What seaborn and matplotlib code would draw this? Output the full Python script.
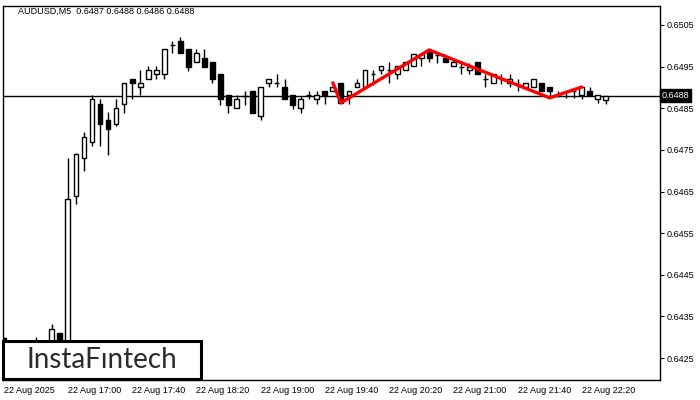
import matplotlib
matplotlib.use("Agg")
import matplotlib.pyplot as plt
import seaborn as sns
import pandas as pd
from matplotlib.patches import Rectangle

# AUDUSD M5 bars, 22 Aug 2025 16:20 .. 22:35
opens = [0.64298, 0.64281, 0.64279, 0.64283, 0.64286, 0.64289, 0.64281, 0.64310, 0.64281, 0.64639,
         0.64731, 0.64769, 0.64860, 0.64822, 0.64812, 0.64860, 0.64920, 0.64901, 0.64920, 0.64932,
         0.64932, 0.65002, 0.65012, 0.64992, 0.64961, 0.64971, 0.64961, 0.64932, 0.64882, 0.64851,
         0.64879, 0.64891, 0.64831, 0.64911, 0.64911, 0.64901, 0.64882, 0.64851, 0.64882, 0.64872,
         0.64891, 0.64891, 0.64911, 0.64882, 0.64901, 0.64901, 0.64932, 0.64942, 0.64942, 0.64932,
         0.64942, 0.64952, 0.64971, 0.64990, 0.64978, 0.64971, 0.64952, 0.64949, 0.64942, 0.64961,
         0.64920, 0.64911, 0.64920, 0.64911, 0.64908, 0.64901, 0.64901, 0.64911, 0.64901, 0.64882,
         0.64889, 0.64891, 0.64882, 0.64891, 0.64872, 0.64870]
highs = [0.64301, 0.64286, 0.64283, 0.64289, 0.64301, 0.64293, 0.64332, 0.64310, 0.64731, 0.64743,
         0.64793, 0.64882, 0.64872, 0.64841, 0.64872, 0.64911, 0.64920, 0.64942, 0.64952, 0.64952,
         0.64992, 0.65012, 0.65021, 0.64992, 0.64992, 0.64992, 0.64961, 0.64932, 0.64882, 0.64882,
         0.64891, 0.64891, 0.64901, 0.64920, 0.64932, 0.64920, 0.64882, 0.64879, 0.64891, 0.64891,
         0.64891, 0.64901, 0.64911, 0.64891, 0.64920, 0.64942, 0.64942, 0.64952, 0.64961, 0.64952,
         0.64961, 0.64980, 0.64980, 0.64990, 0.64980, 0.64980, 0.64966, 0.64959, 0.64959, 0.64961,
         0.64932, 0.64932, 0.64932, 0.64932, 0.64920, 0.64911, 0.64920, 0.64911, 0.64901, 0.64891,
         0.64889, 0.64896, 0.64901, 0.64901, 0.64882, 0.64880]
lows = [0.64274, 0.64269, 0.64269, 0.64274, 0.64276, 0.64274, 0.64274, 0.64269, 0.64269, 0.64620,
        0.64699, 0.64759, 0.64759, 0.64738, 0.64807, 0.64839, 0.64872, 0.64882, 0.64920, 0.64920,
        0.64920, 0.64983, 0.64983, 0.64940, 0.64961, 0.64949, 0.64911, 0.64858, 0.64839, 0.64851,
        0.64858, 0.64839, 0.64822, 0.64901, 0.64901, 0.64872, 0.64848, 0.64839, 0.64872, 0.64860,
        0.64860, 0.64891, 0.64863, 0.64860, 0.64901, 0.64901, 0.64906, 0.64932, 0.64911, 0.64920,
        0.64942, 0.64952, 0.64952, 0.64961, 0.64959, 0.64961, 0.64952, 0.64932, 0.64932, 0.64932,
        0.64901, 0.64911, 0.64908, 0.64901, 0.64891, 0.64901, 0.64901, 0.64891, 0.64875, 0.64877,
        0.64875, 0.64875, 0.64872, 0.64882, 0.64863, 0.64860]
closes = [0.64281, 0.64279, 0.64283, 0.64286, 0.64289, 0.64281, 0.64320, 0.64281, 0.64632, 0.64740,
          0.64781, 0.64872, 0.64812, 0.64800, 0.64851, 0.64911, 0.64911, 0.64911, 0.64942, 0.64942,
          0.64992, 0.65002, 0.64983, 0.64949, 0.64983, 0.64949, 0.64920, 0.64872, 0.64858, 0.64872,
          0.64879, 0.64839, 0.64901, 0.64920, 0.64911, 0.64872, 0.64858, 0.64872, 0.64882, 0.64882,
          0.64882, 0.64901, 0.64863, 0.64891, 0.64911, 0.64942, 0.64932, 0.64952, 0.64942, 0.64952,
          0.64961, 0.64980, 0.64980, 0.64971, 0.64978, 0.64961, 0.64961, 0.64949, 0.64949, 0.64932,
          0.64920, 0.64932, 0.64920, 0.64920, 0.64908, 0.64911, 0.64920, 0.64891, 0.64891, 0.64882,
          0.64889, 0.64891, 0.64901, 0.64882, 0.64882, 0.64880]

# pattern line (bar index, price)
pattern_bars = [41, 42, 53, 68, 72]
pattern_prices = [0.64911, 0.64863, 0.64990, 0.64875, 0.64901]

current_price = 0.6488
y_ticks = [0.6425, 0.6435, 0.6445, 0.6455, 0.6465, 0.6475, 0.6485, 0.6495, 0.6505]
x_tick_bars = [0, 8, 16, 24, 32, 40, 48, 56, 64, 72]
x_tick_labels = ['22 Aug 2025', '22 Aug 17:00', '22 Aug 17:40', '22 Aug 18:20', '22 Aug 19:00',
                 '22 Aug 19:40', '22 Aug 20:20', '22 Aug 21:00', '22 Aug 21:40', '22 Aug 22:20']

df = pd.DataFrame({'open': opens, 'high': highs, 'low': lows, 'close': closes})
df['bar'] = range(len(df))
df['up'] = df['close'] >= df['open']

sns.set_style('white')
plt.rcParams['font.family'] = ['Liberation Sans', 'DejaVu Sans']

fig = plt.figure(figsize=(7, 4), dpi=100)
# axes frame: x 3..660 px, y 6..380 px
ax = fig.add_axes([3 / 700, 20 / 400, 657 / 700, 374 / 400])

# wicks
ax.vlines(df['bar'], df['low'], df['high'], color='black', linewidth=1, zorder=2)
# bodies
body_bottom = df[['open', 'close']].min(axis=1)
body_height = (df['close'] - df['open']).abs()
face = ['white' if u else 'black' for u in df['up']]
ax.bar(df['bar'], body_height, bottom=body_bottom, width=0.6, color=face,
       edgecolor='black', linewidth=1, zorder=3)

ax.axhline(current_price, color='black', linewidth=1, zorder=1)

sns.lineplot(x=pattern_bars, y=pattern_prices, color='red', linewidth=2.4, ax=ax, zorder=4)

ax.set_xlim(-0.08, 81.74)
ax.set_ylim(0.641973, 0.650956)

ax.yaxis.tick_right()
ax.set_yticks(y_ticks)
ax.set_yticklabels([f'{t:.4f}' for t in y_ticks])
ax.set_xticks(x_tick_bars)
ax.set_xticklabels(x_tick_labels, ha='left')
ax.tick_params(axis='both', direction='out', length=3, width=0.8, labelsize=6.5,
               colors='black')
ax.tick_params(axis='x', pad=1)
ax.tick_params(axis='y', pad=2)
for s in ax.spines.values():
    s.set_color('black')
    s.set_linewidth(1)

ax.text(1.003, current_price, '0.6488', transform=ax.get_yaxis_transform(), ha='left',
        va='center', fontsize=6.5, color='white',
        bbox=dict(boxstyle='square,pad=0.2', facecolor='black', edgecolor='black'))

fig.text(18 / 700, 1 - 11 / 400, 'AUDUSD,M5  0.6487 0.6488 0.6486 0.6488', fontsize=6.5,
         color='black', va='center', ha='left')

# logo box
fig.patches.append(Rectangle((3 / 700, 21 / 400), 198 / 700, 38 / 400, transform=fig.transFigure,
                             facecolor='white', edgecolor='black', linewidth=2.2, zorder=5))
fig.text(102 / 700, 40 / 400, 'InstaF\u0131ntech', fontsize=20, color='#2b2b2b',
         ha='center', va='center', family=['Lato', 'DejaVu Sans'], zorder=6)

plt.savefig('out.png', dpi=100)
